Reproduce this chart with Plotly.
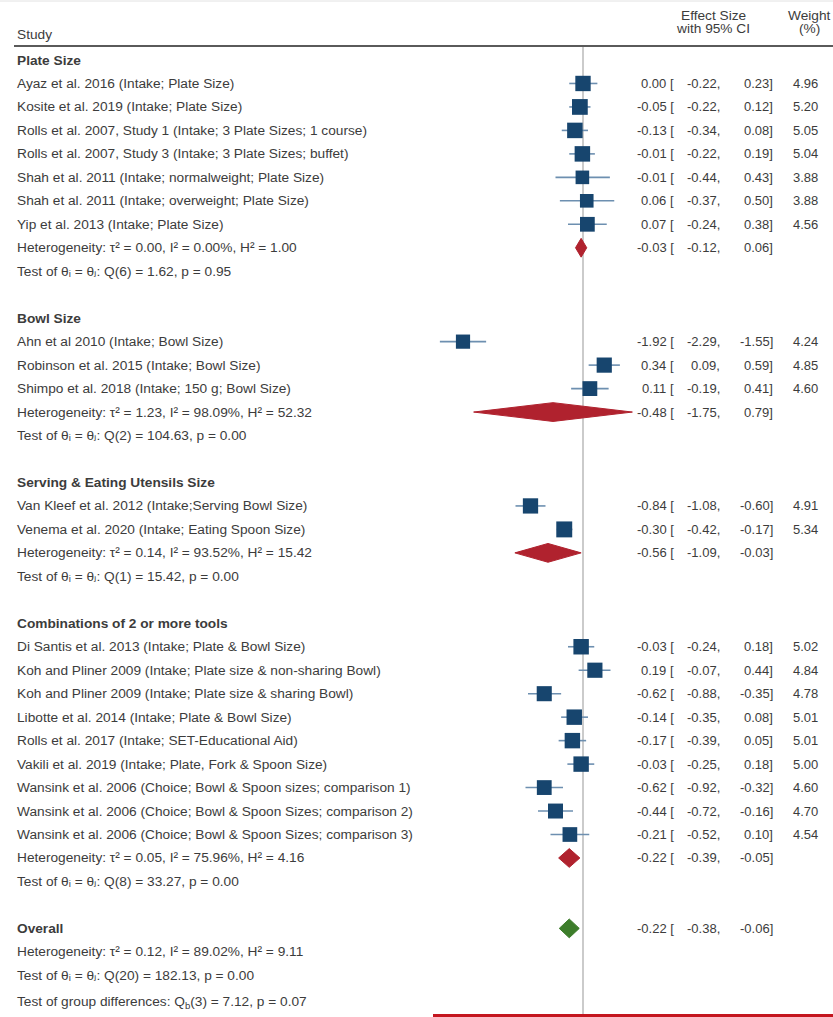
import plotly.graph_objects as go

# ---- data ---------------------------------------------------------------
group_names = [
    "Plate Size",
    "Bowl Size",
    "Serving & Eating Utensils Size",
    "Combinations of 2 or more tools",
]

plate_studies = [
    "Ayaz et al. 2016 (Intake; Plate Size)",
    "Kosite et al. 2019 (Intake; Plate Size)",
    "Rolls et al. 2007, Study 1 (Intake; 3 Plate Sizes; 1 course)",
    "Rolls et al. 2007, Study 3 (Intake; 3 Plate Sizes; buffet)",
    "Shah et al. 2011 (Intake; normalweight; Plate Size)",
    "Shah et al. 2011 (Intake; overweight; Plate Size)",
    "Yip et al. 2013 (Intake; Plate Size)",
]
plate_es = [0.00, -0.05, -0.13, -0.01, -0.01, 0.06, 0.07]
plate_lo = [-0.22, -0.22, -0.34, -0.22, -0.44, -0.37, -0.24]
plate_hi = [0.23, 0.12, 0.08, 0.19, 0.43, 0.50, 0.38]
plate_w = [4.96, 5.20, 5.05, 5.04, 3.88, 3.88, 4.56]

bowl_studies = [
    "Ahn et al 2010 (Intake; Bowl Size)",
    "Robinson et al. 2015 (Intake; Bowl Size)",
    "Shimpo et al. 2018 (Intake; 150 g; Bowl Size)",
]
bowl_es = [-1.92, 0.34, 0.11]
bowl_lo = [-2.29, 0.09, -0.19]
bowl_hi = [-1.55, 0.59, 0.41]
bowl_w = [4.24, 4.85, 4.60]

utensil_studies = [
    "Van Kleef et al. 2012 (Intake;Serving Bowl Size)",
    "Venema et al. 2020 (Intake; Eating Spoon Size)",
]
utensil_es = [-0.84, -0.30]
utensil_lo = [-1.08, -0.42]
utensil_hi = [-0.60, -0.17]
utensil_w = [4.91, 5.34]

combo_studies = [
    "Di Santis et al. 2013 (Intake; Plate & Bowl Size)",
    "Koh and Pliner 2009 (Intake; Plate size & non-sharing Bowl)",
    "Koh and Pliner 2009 (Intake; Plate size & sharing Bowl)",
    "Libotte et al. 2014 (Intake; Plate & Bowl Size)",
    "Rolls et al. 2017 (Intake; SET-Educational Aid)",
    "Vakili et al. 2019 (Intake; Plate, Fork & Spoon Size)",
    "Wansink et al. 2006 (Choice; Bowl & Spoon sizes; comparison 1)",
    "Wansink et al. 2006 (Choice; Bowl & Spoon Sizes; comparison 2)",
    "Wansink et al. 2006 (Choice; Bowl & Spoon Sizes; comparison 3)",
]
combo_es = [-0.03, 0.19, -0.62, -0.14, -0.17, -0.03, -0.62, -0.44, -0.21]
combo_lo = [-0.24, -0.07, -0.88, -0.35, -0.39, -0.25, -0.92, -0.72, -0.52]
combo_hi = [0.18, 0.44, -0.35, 0.08, 0.05, 0.18, -0.32, -0.16, 0.10]
combo_w = [5.02, 4.84, 4.78, 5.01, 5.01, 5.00, 4.60, 4.70, 4.54]

# subgroup pooled estimates
sub_es = [-0.03, -0.48, -0.56, -0.22]
sub_lo = [-0.12, -1.75, -1.09, -0.39]
sub_hi = [0.06, 0.79, -0.03, -0.05]
sub_tau2 = ["0.00", "1.23", "0.14", "0.05"]
sub_i2 = ["0.00", "98.09", "93.52", "75.96"]
sub_h2 = ["1.00", "52.32", "15.42", "4.16"]
sub_df = [6, 2, 1, 8]
sub_q = ["1.62", "104.63", "15.42", "33.27"]
sub_p = ["0.95", "0.00", "0.00", "0.00"]

# overall pooled estimate
overall_es = -0.22
overall_lo = -0.38
overall_hi = -0.06
overall_tau2 = "0.12"
overall_i2 = "89.02"
overall_h2 = "9.11"
overall_df = 20
overall_q = "182.13"
overall_p = "0.00"
between_df = 3
between_q = "7.12"
between_p = "0.07"

groups = [
    (plate_studies, plate_es, plate_lo, plate_hi, plate_w),
    (bowl_studies, bowl_es, bowl_lo, bowl_hi, bowl_w),
    (utensil_studies, utensil_es, utensil_lo, utensil_hi, utensil_w),
    (combo_studies, combo_es, combo_lo, combo_hi, combo_w),
]

# ---- styling ------------------------------------------------------------
W, H = 833, 1017
ROW_PX = 23.47          # vertical spacing of one row
ROW0_PX = 60            # pixel position of the first row
ZERO_PX = 583           # pixel position of x = 0
UNIT_PX = 62.5          # pixels per effect-size unit

FONT = "Liberation Sans, DejaVu Sans"
FS = 13.7               # study labels and headers
FS_NUM = 13             # numeric columns
TXT = "#3c3c3c"
NAVY = "#17456e"
CI_COL = "#6d8fb0"
SUB_COL = "#b0222e"
ALL_COL = "#3d7d2b"


def px_x(p):
    return p / W


def row_of_px(p):
    return (p - ROW0_PX) / ROW_PX


annotations = []


def label(row, text, xpx, anchor="left", bold=False, size=FS):
    if bold:
        text = "<b>" + text + "</b>"
    annotations.append(dict(
        x=px_x(xpx), xref="paper", y=row, yref="y", text=text,
        xanchor=anchor, yanchor="middle", showarrow=False,
        font=dict(family=FONT, size=size, color=TXT),
    ))


def es_cols(row, es, lo, hi, w=None):
    label(row, f"{es:.2f} [", 676, "right", size=FS_NUM)
    label(row, f"{lo:.2f},", 722, "right", size=FS_NUM)
    label(row, f"{hi:.2f}]", 775, "right", size=FS_NUM)
    if w is not None:
        label(row, f"{w:.2f}", 820, "right", size=FS_NUM)


def het_text(t2, i2, h2):
    return f"Heterogeneity: τ² = {t2}, I² = {i2}%, H² = {h2}"


def q_text(df, q, p):
    return f"Test of θᵢ = θⱼ: Q({df}) = {q}, p = {p}"


# ---- lay out rows -------------------------------------------------------
st_rows, st_es, st_lo, st_hi, st_w = [], [], [], [], []
sub_rows = []
row = 0
for g, (names, es, lo, hi, w) in enumerate(groups):
    label(row, group_names[g], 15, bold=True)
    row += 1
    for k, name in enumerate(names):
        label(row, name, 15)
        es_cols(row, es[k], lo[k], hi[k], w[k])
        st_rows.append(row)
        st_es.append(es[k])
        st_lo.append(lo[k])
        st_hi.append(hi[k])
        st_w.append(w[k])
        row += 1
    label(row, het_text(sub_tau2[g], sub_i2[g], sub_h2[g]), 15)
    es_cols(row, sub_es[g], sub_lo[g], sub_hi[g])
    sub_rows.append(row)
    row += 1
    label(row, q_text(sub_df[g], sub_q[g], sub_p[g]), 15)
    row += 2

overall_row = row
label(row, "Overall", 15, bold=True)
es_cols(row, overall_es, overall_lo, overall_hi)
label(row + 1, het_text(overall_tau2, overall_i2, overall_h2), 15)
label(row + 2, q_text(overall_df, overall_q, overall_p), 15)
label(row + 3.15, f"Test of group differences: Q<sub>b</sub>({between_df}) = "
      f"{between_q}, p = {between_p}", 15)

# column headers
label(row_of_px(34), "Study", 15)
label(row_of_px(15), "Effect Size", 713, "center")
label(row_of_px(28), "with 95% CI", 713, "center")
label(row_of_px(15), "Weight", 809, "center")
label(row_of_px(28), "(%)", 809, "center")

# ---- traces -------------------------------------------------------------
fig = go.Figure()

ci_x, ci_y = [], []
for r, lo, hi in zip(st_rows, st_lo, st_hi):
    ci_x += [lo, hi, None]
    ci_y += [r, r, None]
fig.add_trace(go.Scatter(x=ci_x, y=ci_y, mode="lines",
                         line=dict(color=CI_COL, width=1.6),
                         hoverinfo="skip", showlegend=False))

# study markers: square area proportional to weight
fig.add_trace(go.Scatter(
    x=st_es, y=st_rows, mode="markers",
    marker=dict(symbol="square", color=NAVY, opacity=1,
                size=[6.9 * w ** 0.5 for w in st_w], line=dict(width=0)),
    showlegend=False))

HALF = 0.40  # diamond half-height in rows


def diamond(es, lo, hi, r):
    return [lo, es, hi, es, lo, None], [r, r - HALF, r, r + HALF, r, None]


dx, dy = [], []
for g in range(len(groups)):
    x, y = diamond(sub_es[g], sub_lo[g], sub_hi[g], sub_rows[g])
    dx += x
    dy += y
fig.add_trace(go.Scatter(x=dx, y=dy, mode="lines", fill="toself",
                         fillcolor=SUB_COL, line=dict(color=SUB_COL, width=1),
                         hoverinfo="skip", showlegend=False))

ox, oy = diamond(overall_es, overall_lo, overall_hi, overall_row)
fig.add_trace(go.Scatter(x=ox, y=oy, mode="lines", fill="toself",
                         fillcolor=ALL_COL, line=dict(color=ALL_COL, width=1),
                         hoverinfo="skip", showlegend=False))

# ---- reference lines ----------------------------------------------------
y_top = row_of_px(0)
y_bot = row_of_px(H)
shapes = [
    # no-effect line
    dict(type="line", xref="x", yref="y", x0=0, x1=0,
         y0=row_of_px(46), y1=y_bot, line=dict(color="#a8a8a8", width=1.2),
         layer="below"),
    # header rule
    dict(type="line", xref="paper", yref="y", x0=px_x(14), x1=1,
         y0=row_of_px(46), y1=row_of_px(46),
         line=dict(color="#5a5a5a", width=1.8)),
    # faint top border
    dict(type="line", xref="paper", yref="paper", x0=0, x1=1,
         y0=1 - 1 / H, y1=1 - 1 / H, line=dict(color="#e2e2e2", width=1)),
    # red underline at the bottom
    dict(type="rect", xref="paper", yref="paper", x0=px_x(433), x1=1,
         y0=0, y1=3 / H, fillcolor="#c4161f", line=dict(width=0)),
]

fig.update_layout(
    width=W, height=H,
    margin=dict(l=0, r=0, t=0, b=0),
    paper_bgcolor="white", plot_bgcolor="white",
    xaxis=dict(range=[-ZERO_PX / UNIT_PX, (W - ZERO_PX) / UNIT_PX],
               visible=False, fixedrange=True),
    yaxis=dict(range=[y_bot, y_top], visible=False, fixedrange=True),
    annotations=annotations,
    shapes=shapes,
    showlegend=False,
)

fig.write_html("out.html")
